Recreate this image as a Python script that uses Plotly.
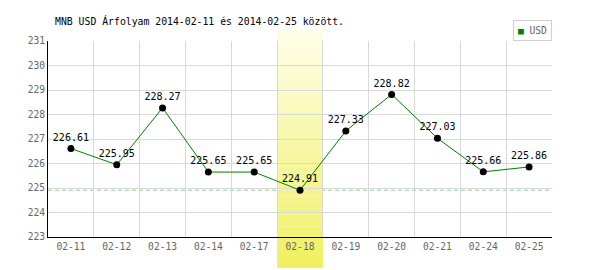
import plotly.graph_objects as go

dates = ["02-11", "02-12", "02-13", "02-14", "02-17", "02-18", "02-19", "02-20", "02-21", "02-24", "02-25"]
usd = [226.61, 225.95, 228.27, 225.65, 225.65, 224.91, 227.33, 228.82, 227.03, 225.66, 225.86]
y_ticks = [223, 224, 225, 226, 227, 228, 229, 230, 231]
title_text = "MNB USD Árfolyam 2014-02-11 és 2014-02-25 között."
highlight = "02-18"
series_name = "USD"

FONT = "DejaVu Sans Mono"
W, H = 600, 270
ML, MR, MT, MB = 48, 48, 41, 33
PH = H - MT - MB

fig = go.Figure()
fig.add_trace(go.Scatter(
    x=dates, y=usd, mode="lines+markers+text",
    line=dict(color="#008000", width=1),
    marker=dict(color="black", size=7),
    text=[f"{v:.2f}" for v in usd], textposition="top center",
    textfont=dict(family=FONT, size=10, color="black"),
    cliponaxis=False, showlegend=False, name=series_name,
))

shapes = []
# dashed reference line at the minimum
shapes.append(dict(type="line", xref="paper", x0=0, x1=1, yref="y",
                   y0=min(usd), y1=min(usd), layer="between",
                   line=dict(color="#99cc99", width=1, dash="4px,3px")))
# gradient highlight band
hi = dates.index(highlight)
top_px, bot_px = 30, 268
n = 40
c0 = (254, 254, 234)
c1 = (240, 240, 96)
for i in range(n):
    p0 = top_px + (bot_px - top_px) * i / n
    p1 = top_px + (bot_px - top_px) * (i + 1) / n
    t = (i + 0.5) / n
    col = tuple(round(c0[k] + (c1[k] - c0[k]) * t) for k in range(3))
    shapes.append(dict(type="rect", xref="x", x0=hi - 0.5, x1=hi + 0.5,
                       yref="paper", y0=(H - MB - p1) / PH, y1=(H - MB - p0) / PH + 0.001,
                       fillcolor="rgb(%d,%d,%d)" % col, line=dict(width=0),
                       layer="between"))

fig.update_layout(
    width=W, height=H, margin=dict(l=ML, r=MR, t=MT, b=MB),
    paper_bgcolor="white", plot_bgcolor="white",
    font=dict(family=FONT, size=10, color="#666666"),
    shapes=shapes,
    showlegend=False,
    annotations=[
        dict(text=title_text, xref="paper", yref="paper", x=0, xshift=5, y=1, yshift=12,
             xanchor="left", yanchor="bottom", showarrow=False,
             font=dict(family=FONT, size=9.8, color="black")),
        dict(text="<span style='color:#008000'>■</span> " + series_name,
             xref="paper", yref="paper", x=1, y=1, xanchor="right", yanchor="bottom",
             showarrow=False, bordercolor="#d0d0d0", borderwidth=1, borderpad=4,
             bgcolor="white", font=dict(family=FONT, size=9.6, color="#666666")),
    ],
    xaxis=dict(type="category", categoryorder="array", categoryarray=dates,
               range=[-0.5, len(dates) - 0.5], tickson="boundaries",
               showgrid=True, gridcolor="#d9d9d9", gridwidth=1,
               showline=True, linecolor="black", linewidth=1,
               ticks="", tickfont=dict(family=FONT, size=9.6, color="#666666"),
               zeroline=False, fixedrange=True),
    yaxis=dict(range=[y_ticks[0], y_ticks[-1]], tickvals=y_ticks,
               showgrid=True, gridcolor="#d9d9d9", gridwidth=1,
               showline=True, linecolor="black", linewidth=1,
               ticks="", tickfont=dict(family=FONT, size=9.6, color="#666666"),
               zeroline=False, fixedrange=True),
)

fig.write_html("out.html", config={"displayModeBar": False})
